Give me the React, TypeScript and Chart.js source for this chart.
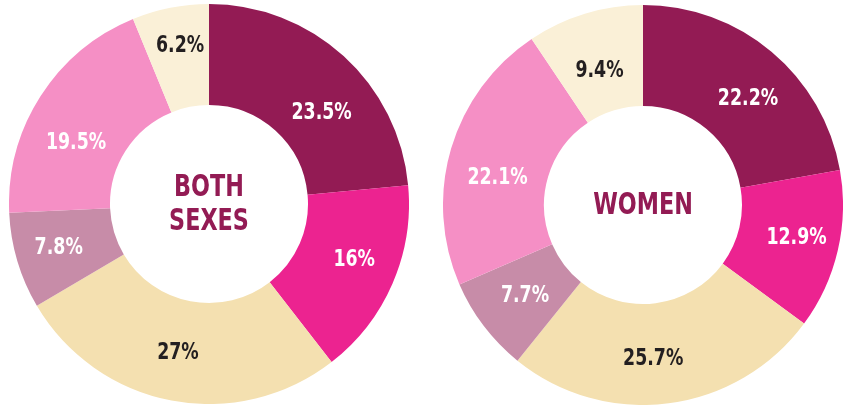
import React, { useEffect, useRef } from "react";
import { Chart, registerables } from "chart.js";

Chart.register(...registerables);

const categories = ["Segment A", "Segment B", "Segment C", "Segment D", "Segment E", "Segment F"];
const bothSexesValues = [23.5, 16, 27, 7.8, 19.5, 6.2];
const womenValues = [22.2, 12.9, 25.7, 7.7, 22.1, 9.4];
const bothSexesLabels = ["23.5%", "16%", "27%", "7.8%", "19.5%", "6.2%"];
const womenLabels = ["22.2%", "12.9%", "25.7%", "7.7%", "22.1%", "9.4%"];
const bothSexesTitle = ["BOTH", "SEXES"];
const womenTitle = ["WOMEN"];

const segmentColors = ["#931B54", "#EC2390", "#F4E0B0", "#C78CA8", "#F58FC5", "#FAF0D7"];
const labelColors = ["#FFFFFF", "#FFFFFF", "#231F20", "#FFFFFF", "#FFFFFF", "#231F20"];
// label nudges (pixels) from arc midpoints
const bothSexesNudges: [number, number][] = [[12, 19], [8, -4], [-3, 1], [-7, 0], [-7, 19], [0, -12]];
const womenNudges: [number, number][] = [[9, 8], [8, -2], [-9, 5], [1, 0], [-2, 14], [0, 8]];

const FONT = '"DejaVu Sans Condensed", "DejaVu Sans", sans-serif';

function drawSquished(ctx: any, text: string, x: number, y: number, sx: number) {
  ctx.save();
  ctx.translate(x, y);
  ctx.scale(sx, 1);
  ctx.fillText(text, 0, 0);
  ctx.restore();
}

function DonutChart(props: {
  values: number[];
  labels: string[];
  nudges: [number, number][];
  title: string[];
  left: number;
  top: number;
}) {
  const ref = useRef<HTMLCanvasElement | null>(null);
  useEffect(() => {
    if (!ref.current) return;
    const labelPlugin = {
      id: "labelsAndTitle",
      afterDatasetsDraw(chart: any) {
        const ctx = chart.ctx;
        const meta = chart.getDatasetMeta(0);
        ctx.save();
        ctx.textAlign = "center";
        ctx.textBaseline = "middle";
        ctx.font = `bold 23px ${FONT}`;
        meta.data.forEach((arc: any, i: number) => {
          const p = arc.tooltipPosition();
          const n = props.nudges[i] || [0, 0];
          ctx.fillStyle = labelColors[i];
          drawSquished(ctx, props.labels[i], p.x + n[0], p.y + n[1] + 1, 0.84);
        });
        const first = meta.data[0];
        const cx = first.x;
        const cy = first.y;
        ctx.fillStyle = "#931B54";
        ctx.font = `bold 31px ${FONT}`;
        const lh = 34;
        const n = props.title.length;
        props.title.forEach((t, i) => {
          drawSquished(ctx, t, cx, cy + 1 + (i - (n - 1) / 2) * lh, 0.8);
        });
        ctx.restore();
      },
    };
    const chart = new Chart(ref.current, {
      type: "doughnut",
      data: {
        labels: categories,
        datasets: [
          {
            data: props.values,
            backgroundColor: segmentColors,
            borderWidth: 0,
          },
        ],
      },
      options: {
        animation: false,
        responsive: false,
        maintainAspectRatio: false,
        cutout: "49.5%",
        layout: { padding: 0 },
        plugins: {
          legend: { display: false },
          tooltip: { enabled: false },
        },
      },
      plugins: [labelPlugin],
    });
    return () => chart.destroy();
  }, []);
  return (
    <canvas
      ref={ref}
      width={400}
      height={400}
      style={{ position: "absolute", left: props.left, top: props.top, width: 400, height: 400 }}
    />
  );
}

export default function App() {
  return (
    <div
      style={{
        position: "fixed",
        left: 0,
        top: 0,
        width: 849,
        height: 406,
        background: "#FFFFFF",
        overflow: "hidden",
      }}
    >
      <DonutChart values={bothSexesValues} labels={bothSexesLabels} nudges={bothSexesNudges} title={bothSexesTitle} left={9} top={4} />
      <DonutChart values={womenValues} labels={womenLabels} nudges={womenNudges} title={womenTitle} left={443} top={5} />
    </div>
  );
}
